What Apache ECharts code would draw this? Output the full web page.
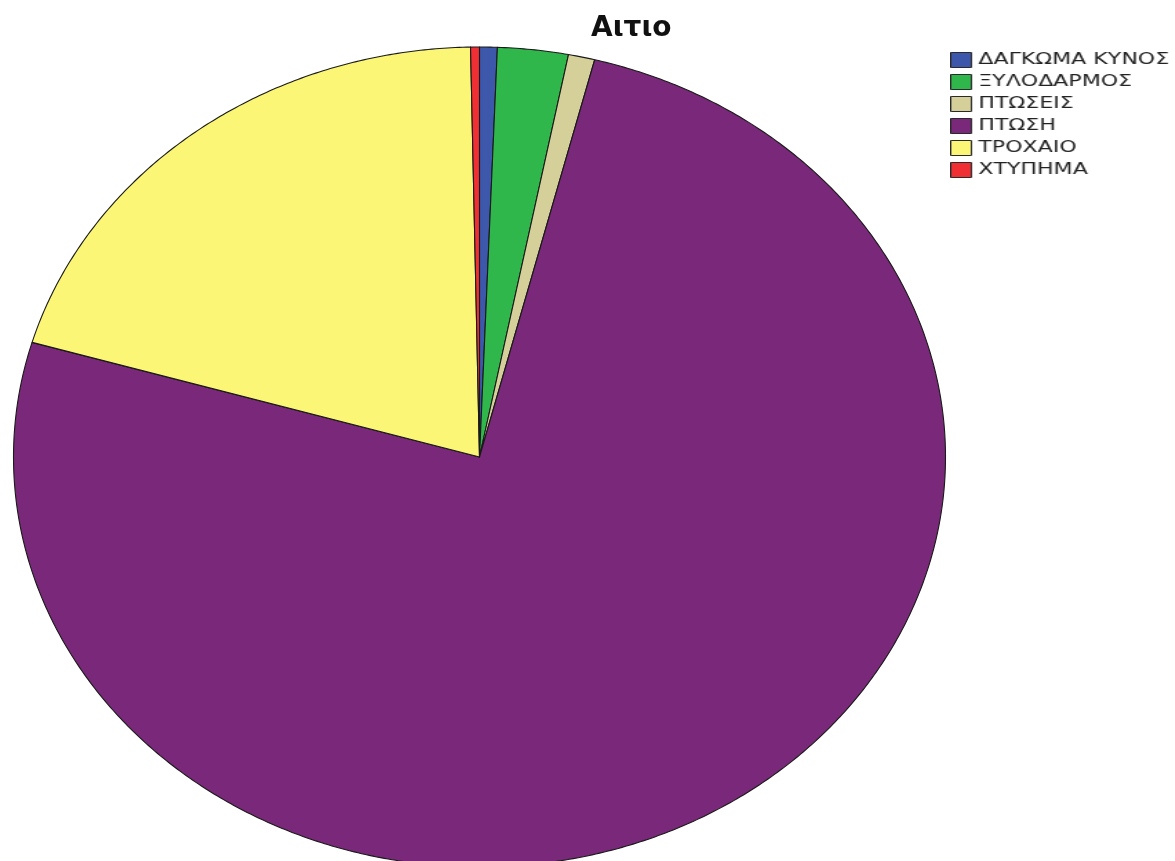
<!DOCTYPE html>
<html>
<head>
<meta charset="utf-8">
<script src="https://cdn.jsdelivr.net/npm/echarts@6/dist/echarts.min.js"></script>
<style>
html, body { margin: 0; padding: 0; overflow: hidden; background: #fff; }
#wrap { position: relative; width: 1175px; height: 861px; overflow: hidden; }
#chart { position: absolute; left: 0; top: 0; width: 1175px; height: 861px; }
/* the legend is set in a horizontally widened box */
#legend { position: absolute; left: 950px; top: 52px; width: 170px; height: 170px;
          transform: scaleX(1.38); transform-origin: 0 0; }
</style>
</head>
<body>
<div id="wrap">
  <div id="chart"></div>
  <div id="legend"></div>
</div>
<script>
// Causes of injury and their case counts
const categories = ['ΔΑΓΚΩΜΑ ΚΥΝΟΣ', 'ΞΥΛΟΔΑΡΜΟΣ', 'ΠΤΩΣΕΙΣ', 'ΠΤΩΣΗ', 'ΤΡΟΧΑΙΟ', 'ΧΤΥΠΗΜΑ'];
const counts = [2, 8, 3, 247, 66, 1];
const colors = ['#3d57aa', '#2fb74b', '#d5d09a', '#7a2879', '#fbf675', '#ef2f33'];
const titleText = 'Αιτιο';

const total = counts.reduce((a, b) => a + b, 0);

// Each slice is one series holding its cumulative [start, end] count range,
// drawn as an elliptical sector in a [-1, 1] x [-1, 1] value grid.
let running = 0;
const sliceSeries = categories.map((name, i) => {
  const start = running;
  running += counts[i];
  return {
    name: name,
    type: 'custom',
    coordinateSystem: 'cartesian2d',
    itemStyle: { color: colors[i] },
    data: [[start, running]],
    renderItem: function (params, api) {
      const a0 = api.value(0) / total * Math.PI * 2;
      const a1 = api.value(1) / total * Math.PI * 2;
      const steps = Math.max(2, Math.ceil((a1 - a0) * 120));
      const pts = [api.coord([0, 0])];
      for (let k = 0; k <= steps; k++) {
        const t = a0 + (a1 - a0) * k / steps;
        pts.push(api.coord([Math.sin(t), Math.cos(t)]));
      }
      return {
        type: 'polygon',
        shape: { points: pts },
        style: { fill: api.visual('color'), stroke: '#1a1a1a', lineWidth: 1.1, lineJoin: 'round' }
      };
    }
  };
});

const chart = echarts.init(document.getElementById('chart'), null, { renderer: 'canvas' });
chart.setOption({
  animation: false,
  backgroundColor: '#ffffff',
  title: {
    text: titleText,
    left: 586,
    top: 10,
    textStyle: { fontFamily: 'DejaVu Sans', fontSize: 28, fontWeight: 'bold', color: '#111' }
  },
  grid: { left: 13.5, top: 47, width: 932, height: 820, outerBoundsMode: 'none', containLabel: false },
  xAxis: { type: 'value', min: -1, max: 1, show: false },
  yAxis: { type: 'value', min: -1, max: 1, show: false },
  series: sliceSeries
});

// Legend: one entry per cause, coloured like its slice
const legendChart = echarts.init(document.getElementById('legend'), null, { renderer: 'canvas' });
legendChart.setOption({
  animation: false,
  legend: {
    orient: 'vertical',
    left: 0,
    top: 0,
    padding: 0,
    itemWidth: 15,
    itemHeight: 15,
    itemGap: 6,
    icon: 'rect',
    selectedMode: false,
    data: categories,
    itemStyle: { borderColor: '#2a2a2a', borderWidth: 1 },
    textStyle: { fontFamily: 'DejaVu Sans', fontSize: 16, color: '#222' }
  },
  series: categories.map((name, i) => ({
    name: name,
    type: 'custom',
    coordinateSystem: 'none',
    itemStyle: { color: colors[i] },
    data: [],
    renderItem: function () { return null; }
  }))
});
</script>
</body>
</html>
